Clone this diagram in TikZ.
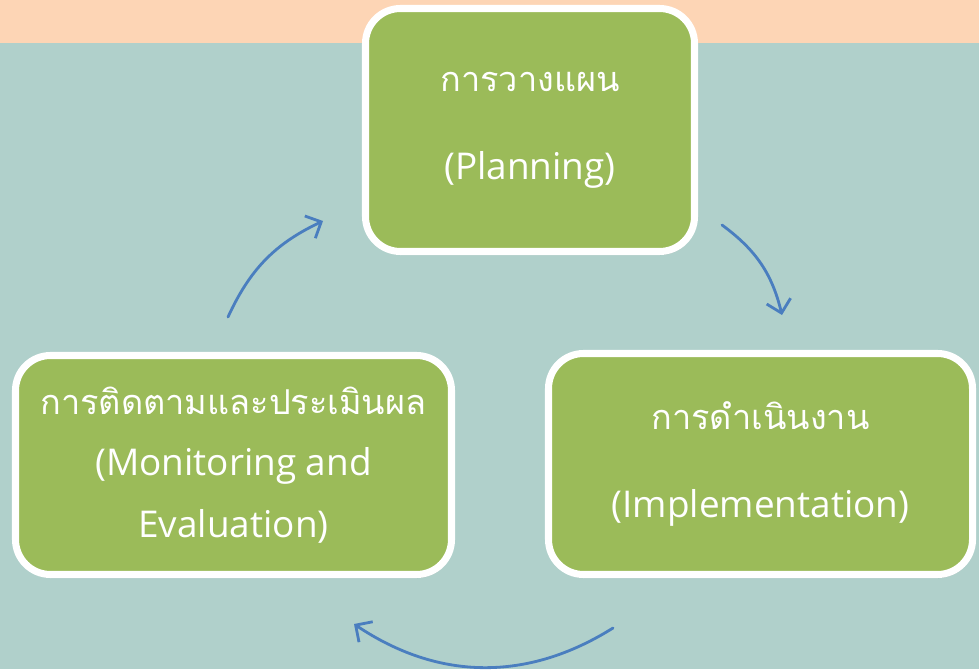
\documentclass[tikz,border=0pt]{standalone}
\usepackage{fontspec}
\newfontfamily\thaifont[Script=Thai]{Loma}
\newfontfamily\latinfont{Open Sans}
\usetikzlibrary{arrows.meta,shadows}
\definecolor{peach}{HTML}{FDD5B5}
\definecolor{teal}{HTML}{B0D0CB}
\definecolor{leaf}{HTML}{9BBB59}
\definecolor{arrowblue}{HTML}{4A7EBF}
\newcommand{\thailine}[1]{{\thaifont\fontsize{19.5}{24}\selectfont #1}}
\newcommand{\engline}[1]{{\latinfont\fontsize{21}{24}\selectfont #1}}
\tikzset{
	stagebox/.style={draw=white, line width=4pt, fill=leaf, rounded corners=0.7cm,
		text=white, align=center, font=\fontsize{20}{24}\selectfont,
		drop shadow={opacity=0.35, shadow xshift=0.5pt, shadow yshift=-2pt}},
	cyclearrow/.style={draw=arrowblue, line width=1.6pt, line cap=round,
		-{Straight Barb[length=7pt,width=14pt,line width=1.6pt]}}
}

\begin{document}
\begin{tikzpicture}
		%%%%% START %%%%%
		\useasboundingbox (0, 0) rectangle (19.58, 13.38);
		\fill[teal] (0, 0) rectangle (19.58, 12.52);
		\fill[peach] (0, 12.52) rectangle (19.58, 13.38);
		
		\node[stagebox, minimum width=6.58cm, minimum height=4.86cm] (plan) at (10.6, 10.78)
			{\thailine{การวางแผน}\\[0.92cm]\engline{(Planning)}};
		\node[stagebox, minimum width=8.48cm, minimum height=4.42cm] (impl) at (15.21, 4.1)
			{\thailine{การดำเนินงาน}\\[0.92cm]\engline{(Implementation)}};
		\node[stagebox, minimum width=8.72cm, minimum height=4.38cm] (eval) at (4.67, 4.08)
			{\thailine{การติดตามและประเมินผล}\\[0.38cm]\engline{(Monitoring and}\\[0.38cm]\engline{Evaluation)}};
		
		\coordinate (planout) at (14.44, 8.88);
		\coordinate (implin) at (15.64, 7.08);
		\coordinate (implout) at (12.26, 0.82);
		\coordinate (evalin) at (7.08, 0.9);
		\coordinate (evalout) at (4.56, 7.04);
		\coordinate (planin) at (6.46, 8.96);
		
		\draw[cyclearrow] (planout) to[bend left=20] (implin);
		\draw[cyclearrow] (implout) to[bend left=33] (evalin);
		\draw[cyclearrow] (evalout) to[bend left=20] (planin);
		%%%%% END %%%%%
	\end{tikzpicture}
\end{document}
